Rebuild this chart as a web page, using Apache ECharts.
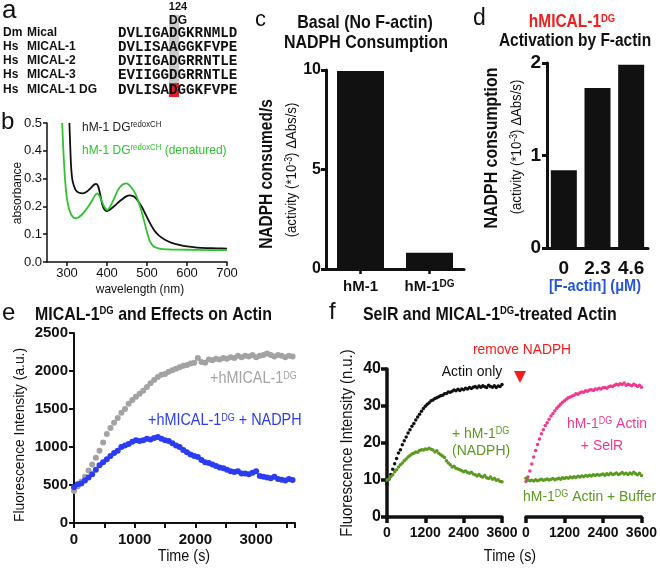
<!DOCTYPE html>
<html><head><meta charset="utf-8">
<script src="https://cdn.jsdelivr.net/npm/echarts@6/dist/echarts.min.js"></script>
<style>html,body{margin:0;padding:0;background:#fff}#c{width:660px;height:568px}</style>
</head><body><div id="c"></div>
<script>
// ---------- Panel a: sequence alignment ----------
const aSpecies = ['Dm', 'Hs', 'Hs', 'Hs', 'Hs'];
const aNames = ['Mical', 'MICAL-1', 'MICAL-2', 'MICAL-3', 'MICAL-1 DG'];
const aSeqs = ['DVLIGADGKRNMLD', 'DVLISAAGGKFVPE', 'DVIIGADGRRNTLE', 'EVIIGGDGRRNTLE', 'DVLISADGGKFVPE'];

// ---------- Panel b: absorbance spectra [wavelength nm, absorbance] ----------
const bNative = [[306,0.50],[308,0.42],[310,0.35],[313,0.30],[317,0.275],[322,0.258],[330,0.249],[340,0.247],[350,0.254],[360,0.267],[368,0.279],[373,0.281],[378,0.272],[383,0.243],[388,0.208],[394,0.188],[400,0.183],[408,0.189],[418,0.201],[428,0.214],[438,0.226],[448,0.236],[456,0.240],[464,0.238],[472,0.230],[480,0.214],[488,0.196],[496,0.172],[504,0.150],[512,0.128],[520,0.110],[530,0.095],[545,0.080],[560,0.070],[580,0.062],[600,0.056],[625,0.052],[650,0.050],[675,0.049],[700,0.048]];
const bDenatured = [[288,0.50],[290,0.43],[292,0.37],[295,0.30],[298,0.25],[302,0.21],[307,0.183],[313,0.165],[320,0.157],[328,0.160],[337,0.170],[346,0.185],[355,0.203],[363,0.222],[370,0.240],[376,0.247],[382,0.235],[388,0.215],[394,0.197],[400,0.188],[404,0.190],[410,0.205],[418,0.229],[426,0.255],[434,0.272],[442,0.281],[448,0.283],[454,0.279],[460,0.270],[468,0.254],[476,0.228],[484,0.193],[492,0.152],[500,0.108],[507,0.076],[514,0.060],[522,0.052],[535,0.047],[560,0.045],[600,0.044],[650,0.043],[700,0.043]];

// ---------- Panel c ----------
const cCats = ['hM-1', 'hM-1^DG'];
const cVals = [9.95, 0.82];

// ---------- Panel d ----------
const dCats = ['0', '2.3', '4.6'];
const dVals = [0.84, 1.73, 1.98];

// ---------- Panel e: [time s, fluorescence a.u.] ----------
const eMical = [[0,420],[60,480],[120,545],[180,610],[240,690],[300,770],[360,860],[420,950],[480,1060],[540,1170],[600,1250],[660,1320],[720,1380],[780,1450],[840,1500],[900,1570],[960,1620],[1020,1660],[1080,1700],[1140,1740],[1200,1790],[1260,1840],[1320,1880],[1380,1920],[1440,1950],[1500,1960],[1560,1990],[1620,2010],[1680,2030],[1740,2050],[1800,2070],[1860,2080],[1920,2100],[1980,2110],[2040,2170],[2100,2120],[2160,2110],[2220,2150],[2280,2140],[2340,2160],[2400,2150],[2460,2170],[2520,2160],[2580,2180],[2640,2170],[2700,2200],[2760,2180],[2820,2200],[2880,2190],[2940,2210],[3000,2180],[3060,2200],[3120,2210],[3180,2230],[3240,2210],[3300,2190],[3360,2210],[3420,2200],[3480,2180],[3540,2200],[3600,2190]];
const eMicalNadph = [[0,470],[60,510],[120,520],[180,560],[240,600],[300,640],[360,700],[420,760],[480,800],[540,840],[600,880],[660,920],[720,950],[780,1000],[840,1020],[900,1040],[960,1070],[1020,1090],[1080,1080],[1140,1090],[1200,1110],[1260,1100],[1320,1120],[1380,1130],[1440,1110],[1500,1090],[1560,1080],[1620,1050],[1680,1020],[1740,1000],[1800,960],[1860,930],[1920,900],[1980,880],[2040,870],[2100,830],[2160,800],[2220,790],[2280,770],[2340,750],[2400,730],[2460,720],[2520,700],[2580,680],[2640,670],[2700,680],[2760,650],[2820,650],[2880,640],[2940,660],[3000,680],[3060,620],[3120,610],[3180,600],[3240,590],[3300,610],[3360,580],[3420,570],[3480,560],[3540,580],[3600,565]];

// ---------- Panel f: [time s, fluorescence n.u.] ----------
const fActin = [[0,8.8],[60,10.2],[120,11.5],[180,12.9],[240,14.4],[300,15.8],[360,17.3],[420,18.2],[480,19.5],[540,20.6],[600,21.6],[660,22.7],[720,23.6],[780,24.5],[840,25.3],[900,26.2],[960,27.0],[1020,27.8],[1080,28.6],[1140,29.3],[1200,29.9],[1260,30.5],[1320,30.9],[1380,31.4],[1440,31.6],[1500,32.0],[1560,32.2],[1620,32.5],[1680,32.8],[1740,32.9],[1800,33.3],[1860,33.4],[1920,33.8],[1980,33.7],[2040,34.0],[2100,34.3],[2160,34.1],[2220,34.5],[2280,34.2],[2340,34.6],[2400,34.4],[2460,34.8],[2520,34.6],[2580,35.0],[2640,34.7],[2700,35.1],[2760,35.3],[2820,34.9],[2880,35.4],[2940,35.1],[3000,35.5],[3060,35.2],[3120,35.0],[3180,35.6],[3240,35.3],[3300,35.1],[3360,35.5],[3420,35.0],[3480,35.4],[3540,35.3],[3600,35.8]];
const fNadph = [[0,10.0],[60,10.3],[120,10.9],[180,11.4],[240,12.2],[300,12.8],[360,13.5],[420,14.1],[480,14.6],[540,15.2],[600,15.7],[660,16.2],[720,16.6],[780,17.0],[840,17.2],[900,17.6],[960,17.5],[1020,18.0],[1080,18.2],[1140,18.1],[1200,18.4],[1260,18.3],[1320,18.6],[1380,18.3],[1440,18.1],[1500,17.6],[1560,17.9],[1620,17.2],[1680,16.8],[1740,16.5],[1800,16.1],[1860,15.2],[1920,14.6],[1980,14.1],[2040,13.5],[2100,13.7],[2160,13.2],[2220,13.0],[2280,12.8],[2340,12.5],[2400,12.2],[2460,12.4],[2520,12.0],[2580,11.8],[2640,12.1],[2700,11.6],[2760,11.4],[2820,11.1],[2880,11.5],[2940,11.0],[3000,10.8],[3060,11.2],[3120,10.6],[3180,10.4],[3240,10.8],[3300,10.2],[3360,10.5],[3420,9.9],[3480,10.1],[3540,9.6],[3600,9.5]];
const fSelR = [[0,9.6],[60,10.8],[120,12.4],[180,14.3],[240,16.2],[300,18.0],[360,19.6],[420,21.1],[480,22.5],[540,23.6],[600,24.7],[660,25.5],[720,26.4],[780,27.3],[840,28.0],[900,28.7],[960,29.4],[1020,29.9],[1080,30.5],[1140,31.0],[1200,31.4],[1260,31.8],[1320,32.2],[1380,32.4],[1440,32.7],[1500,32.9],[1560,33.3],[1620,33.2],[1680,33.6],[1740,33.8],[1800,33.7],[1860,34.1],[1920,34.0],[1980,34.3],[2040,34.4],[2100,34.2],[2160,34.6],[2220,34.5],[2280,34.8],[2340,34.6],[2400,34.9],[2460,35.0],[2520,34.8],[2580,35.2],[2640,35.4],[2700,35.3],[2760,35.6],[2820,35.9],[2880,35.7],[2940,36.0],[3000,35.8],[3060,36.2],[3120,35.6],[3180,35.9],[3240,35.7],[3300,35.5],[3360,35.9],[3420,35.6],[3480,35.3],[3540,35.6],[3600,35.1]];
const fBuffer = [[0,10.5],[60,10.0],[120,9.8],[180,9.9],[240,9.7],[300,10.1],[360,9.8],[420,10.0],[480,10.2],[540,9.9],[600,10.1],[660,10.3],[720,10.0],[780,10.2],[840,10.4],[900,10.1],[960,10.3],[1020,10.5],[1080,10.2],[1140,10.6],[1200,10.4],[1260,10.7],[1320,10.5],[1380,10.8],[1440,10.6],[1500,10.9],[1560,10.7],[1620,11.0],[1680,10.8],[1740,11.1],[1800,10.9],[1860,11.2],[1920,11.0],[1980,11.3],[2040,11.1],[2100,11.4],[2160,11.2],[2220,11.5],[2280,11.3],[2340,11.4],[2400,11.6],[2460,11.3],[2520,11.7],[2580,11.4],[2640,11.8],[2700,11.5],[2760,11.6],[2820,11.9],[2880,11.5],[2940,11.7],[3000,12.0],[3060,11.6],[3120,11.8],[3180,11.5],[3240,11.9],[3300,11.6],[3360,12.1],[3420,11.7],[3480,11.4],[3540,11.8],[3600,11.2]];

// ---------- styling ----------
const FF = '"Liberation Sans", Arial, Helvetica, sans-serif';
const MONO = '"Liberation Mono", "Courier New", monospace';
const BLACK = '#111';
const GREEN_B = '#2fc42f';
const GREEN_F = '#5a9a1e';
const PINK = '#f2388f';
const BLUE = '#2b3cf2';
const GRAY = '#a3a3a3';
const RED = '#ff1a1a';

function T(x, y, s, o) {
  o = o || {};
  const size = o.size || 14, fill = o.color || BLACK, w = o.bold ? 'bold' : 'normal', fam = o.mono ? MONO : FF;
  const text = s.replace(/\^\{([^}]*)\}/g, (m, a) => '{s|' + a + '}');
  return {
    type: 'text', x: x, y: y, rotation: o.rot || 0, scaleX: o.sx || 1, z: 100,
    style: {
      text: text, fill: fill, fontSize: size, fontWeight: w, fontFamily: fam,
      align: o.align || 'left', verticalAlign: 'middle',
      rich: { s: { fill: fill, fontSize: o.sup || Math.round(size * 0.62), fontWeight: w, fontFamily: fam, verticalAlign: 'top' } }
    }
  };
}
function supFmt(v) {
  const p = String(v).split('^');
  return p.length > 1 ? '{a|' + p[0] + '}{s|' + p[1] + '}' : '{a|' + p[0] + '}';
}
function axisStyle(w, tickLen) {
  return {
    axisLine: { show: true, lineStyle: { color: BLACK, width: w } },
    axisTick: { show: true, length: tickLen, lineStyle: { color: BLACK, width: w } },
    splitLine: { show: false }
  };
}
function lab(size, bold, margin, extra) {
  return Object.assign({ color: BLACK, fontSize: size, fontWeight: bold ? 'bold' : 'normal', fontFamily: FF, margin: margin, formatter: v => String(v) }, extra || {});
}

// ---------- graphics (text and decorations) ----------
const rowsY = [33, 47, 61, 75, 90];
const graphics = [
  { type: 'rect', z: 1, shape: { x: 169, y: 15, width: 10, height: 82 }, style: { fill: '#c9c9c9' } },
  { type: 'rect', z: 2, shape: { x: 169, y: 83, width: 10, height: 14 }, style: { fill: '#e3202b' } },
  T(2, 11, 'a', { size: 26 }),
  T(178, 7, '124', { size: 11, bold: true, align: 'center' }),
  T(178, 21, 'DG', { size: 12, bold: true, align: 'center' })
];
for (let i = 0; i < aNames.length; i++) {
  graphics.push(T(3, rowsY[i], aSpecies[i], { size: 12, bold: true }));
  graphics.push(T(27, rowsY[i], aNames[i], { size: 12, bold: true }));
  graphics.push(T(118, rowsY[i], aSeqs[i], { size: 14.2, bold: true, mono: true }));
}
graphics.push(
  // b
  T(1, 122, 'b', { size: 24 }),
  T(82, 127, 'hM-1 DG^{redoxCH}', { size: 13, sup: 8.5, color: '#222', sx: 0.92 }),
  T(82, 150, 'hM-1 DG^{redoxCH} (denatured)', { size: 13, sup: 8.5, color: GREEN_B, sx: 0.92 }),
  T(17, 193, 'absorbance', { size: 13, align: 'center', rot: Math.PI / 2, sx: 0.92 }),
  T(140, 289, 'wavelength (nm)', { size: 13, align: 'center', sx: 0.92 }),
  // c
  T(255, 20, 'c', { size: 22 }),
  T(365, 23, 'Basal (No F-actin)', { size: 19, bold: true, align: 'center', sx: 0.84 }),
  T(366, 43, 'NADPH Consumption', { size: 19, bold: true, align: 'center', sx: 0.84 }),
  T(267, 174, 'NADPH consumed/s', { size: 18, bold: true, align: 'center', rot: Math.PI / 2, sx: 0.86 }),
  T(292, 170, '(activity (*10^{-3}) ΔAbs/s)', { size: 15, sup: 10, align: 'center', rot: Math.PI / 2, sx: 0.88 }),
  // d
  T(473, 19, 'd', { size: 23 }),
  T(572, 22, 'hMICAL-1^{DG}', { size: 18, sup: 11, bold: true, color: '#f21d1d', align: 'center', sx: 0.86 }),
  T(575, 41, 'Activation by F-actin', { size: 18, bold: true, align: 'center', sx: 0.86 }),
  T(492, 148, 'NADPH consumption', { size: 18.5, bold: true, align: 'center', rot: Math.PI / 2, sx: 0.86 }),
  T(517, 147, '(activity (*10^{-3}) ΔAbs/s)', { size: 15, sup: 10, align: 'center', rot: Math.PI / 2, sx: 0.88 }),
  T(595, 286, '[F-actin] (μM)', { size: 16.5, bold: true, color: '#2454e0', align: 'center', sx: 0.88 }),
  // e
  T(2, 313, 'e', { size: 24 }),
  T(35, 315, 'MICAL-1^{DG} and Effects on Actin', { size: 18.5, sup: 11, bold: true, sx: 0.86 }),
  T(210, 379, '+hMICAL-1^{DG}', { size: 16, sup: 10, color: GRAY, sx: 0.9 }),
  T(148, 421, '+hMICAL-1^{DG} + NADPH', { size: 16, sup: 10, color: BLUE, sx: 0.9 }),
  T(20, 435, 'Fluorescence Intensity (a.u.)', { size: 15.5, align: 'center', rot: Math.PI / 2, sx: 0.89 }),
  T(184, 557, 'Time (s)', { size: 16, align: 'center', sx: 0.9 }),
  // f
  T(329, 312, 'f', { size: 24 }),
  T(363, 315, 'SelR and MICAL-1^{DG}-treated Actin', { size: 18.5, sup: 11, bold: true, sx: 0.86 }),
  T(522, 350, 'remove NADPH', { size: 15.5, color: RED, align: 'center', sx: 0.89 }),
  { type: 'polygon', z: 50, shape: { points: [[514, 371], [526, 371], [520, 383]] }, style: { fill: RED } },
  T(472, 372, 'Actin only', { size: 15.5, align: 'center', sx: 0.9 }),
  T(452, 434, '+ hM-1^{DG}', { size: 15.5, sup: 10, color: GREEN_F, sx: 0.9 }),
  T(452, 451, '(NADPH)', { size: 15.5, color: GREEN_F, sx: 0.9 }),
  T(607, 424, 'hM-1^{DG} Actin', { size: 15.5, sup: 10, color: PINK, align: 'center', sx: 0.9 }),
  T(602, 446, '+ SelR', { size: 15.5, color: PINK, align: 'center', sx: 0.9 }),
  T(523, 497, 'hM-1^{DG} Actin + Buffer', { size: 15.5, sup: 10, color: GREEN_F, sx: 0.9 }),
  T(347, 443, 'Fluorescence Intensity (n.u.)', { size: 16.5, align: 'center', rot: Math.PI / 2, sx: 0.9 }),
  T(510, 557, 'Time (s)', { size: 16, align: 'center', sx: 0.9 })
);

const option = {
  backgroundColor: '#fff',
  animation: false,
  grid: [
    { left: 47, top: 123, width: 180, height: 139 },   // b
    { left: 326, top: 70, width: 138, height: 199 },   // c
    { left: 547, top: 63, width: 101, height: 185 },   // d
    { left: 74, top: 333, width: 221, height: 190 },   // e
    { left: 387, top: 369, width: 115, height: 148 },  // f left
    { left: 526, top: 369, width: 116, height: 148 }   // f right
  ],
  xAxis: [
    Object.assign({ gridIndex: 0, type: 'value', min: 250, max: 700, interval: 50,
      axisLabel: lab(13, false, 5, { customValues: [300, 400, 500, 600, 700], formatter: v => (v % 100 === 0 ? String(v) : '') }) },
      axisStyle(1.5, 4), { axisTick: { show: true, length: 4, customValues: [300, 400, 500, 600, 700], lineStyle: { color: BLACK, width: 1.5 } } }),
    Object.assign({ gridIndex: 1, type: 'category', data: cCats,
      axisLabel: lab(15, true, 10, { interval: 0, formatter: supFmt, rich: { a: { fontSize: 15, fontWeight: 'bold', fontFamily: FF, color: BLACK }, s: { fontSize: 10, fontWeight: 'bold', fontFamily: FF, color: BLACK, verticalAlign: 'top' } } }) },
      axisStyle(3, 5), { axisTick: { show: true, alignWithLabel: true, length: 5, lineStyle: { color: BLACK, width: 2.5 } } }),
    Object.assign({ gridIndex: 2, type: 'category', data: dCats, axisLabel: lab(19, true, 11, { interval: 0 }) },
      axisStyle(3, 5), { axisTick: { show: false } }),
    Object.assign({ gridIndex: 3, type: 'value', min: 0, max: 3640, interval: 500,
      axisLabel: lab(15, true, 9, { formatter: v => (v % 1000 === 0 ? String(v) : '') }) }, axisStyle(2, 5)),
    Object.assign({ gridIndex: 4, type: 'value', min: 0, max: 3600, interval: 1200, axisLabel: lab(14, true, 9) }, axisStyle(3.5, 6)),
    Object.assign({ gridIndex: 5, type: 'value', min: 0, max: 3600, interval: 1200, axisLabel: lab(14, true, 9) }, axisStyle(3.5, 6))
  ],
  yAxis: [
    Object.assign({ gridIndex: 0, type: 'value', min: 0, max: 0.5, interval: 0.1,
      axisLabel: lab(13, false, 5, { formatter: v => v.toFixed(1) }) }, axisStyle(1.5, 4)),
    Object.assign({ gridIndex: 1, type: 'value', min: 0, max: 10, interval: 5, axisLabel: lab(16, true, 5) }, axisStyle(3, 5)),
    Object.assign({ gridIndex: 2, type: 'value', min: 0, max: 2, interval: 1, axisLabel: lab(19, true, 6) }, axisStyle(3, 5)),
    Object.assign({ gridIndex: 3, type: 'value', min: 0, max: 2500, interval: 500, axisLabel: lab(15, true, 6) }, axisStyle(2, 5)),
    Object.assign({ gridIndex: 4, type: 'value', min: 0, max: 40, interval: 10, axisLabel: lab(16, true, 6) }, axisStyle(3.5, 6)),
    { gridIndex: 5, type: 'value', min: 0, max: 40, interval: 10, show: false }
  ],
  series: [
    { type: 'line', xAxisIndex: 0, yAxisIndex: 0, data: bNative, showSymbol: false, smooth: 0.2, lineStyle: { color: BLACK, width: 1.8 } },
    { type: 'line', xAxisIndex: 0, yAxisIndex: 0, data: bDenatured, showSymbol: false, smooth: 0.2, lineStyle: { color: GREEN_B, width: 1.8 } },
    { type: 'bar', xAxisIndex: 1, yAxisIndex: 1, data: cVals, barWidth: 47, itemStyle: { color: BLACK } },
    { type: 'bar', xAxisIndex: 2, yAxisIndex: 2, data: dVals, barWidth: 26, itemStyle: { color: BLACK } },
    { type: 'scatter', xAxisIndex: 3, yAxisIndex: 3, data: eMical, symbolSize: 6, itemStyle: { color: GRAY, opacity: 1 } },
    { type: 'scatter', xAxisIndex: 3, yAxisIndex: 3, data: eMicalNadph, symbolSize: 6, itemStyle: { color: BLUE, opacity: 1 } },
    { type: 'scatter', xAxisIndex: 4, yAxisIndex: 4, data: fActin, symbolSize: 3.5, itemStyle: { color: BLACK, opacity: 1 } },
    { type: 'scatter', xAxisIndex: 4, yAxisIndex: 4, data: fNadph, symbolSize: 3.5, itemStyle: { color: GREEN_F, opacity: 1 } },
    { type: 'scatter', xAxisIndex: 5, yAxisIndex: 5, data: fSelR, symbolSize: 3.5, itemStyle: { color: PINK, opacity: 1 } },
    { type: 'scatter', xAxisIndex: 5, yAxisIndex: 5, data: fBuffer, symbolSize: 3.5, itemStyle: { color: GREEN_F, opacity: 1 } }
  ],
  graphic: graphics
};
const chart = echarts.init(document.getElementById('c'), null, { renderer: 'canvas' });
chart.setOption(option);
</script></body></html>
